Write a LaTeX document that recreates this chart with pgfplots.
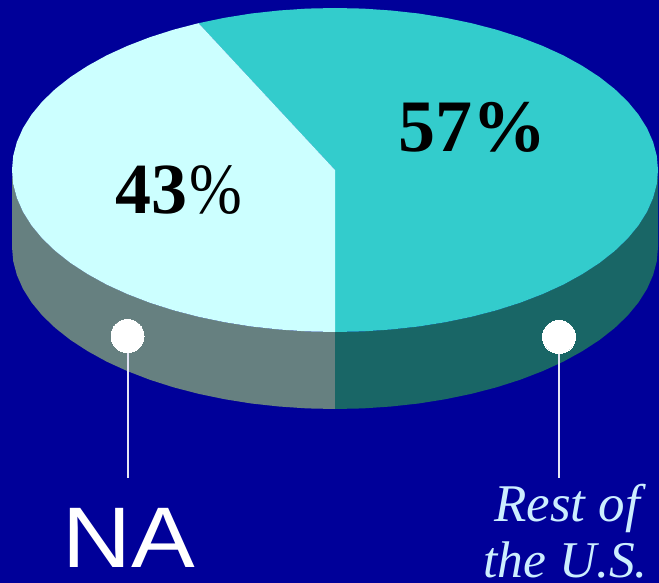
\documentclass[border=0pt]{standalone}
\usepackage{fontspec}
\setmainfont{Liberation Serif}
\newfontfamily\sansf{Liberation Sans}
\usepackage{pgfplots}
\pgfplotsset{compat=1.18}
\definecolor{bg}{HTML}{000099}
\definecolor{teal}{HTML}{33CCCC}
\definecolor{pale}{HTML}{CCFFFF}
\definecolor{sideL}{HTML}{668080}
\definecolor{sideR}{HTML}{196666}
\definecolor{labelc}{HTML}{CCEEFF}
\begin{document}
\begin{tikzpicture}
\begin{axis}[
  scale only axis, width=659pt, height=583pt,
  xmin=0, xmax=659, ymin=0, ymax=583, y dir=reverse,
  hide axis, clip=true
]
% background
\addplot[fill=bg, draw=none] coordinates {(0,0)(659,0)(659,583)(0,583)} -- cycle;
% side wall, NA
\addplot[fill=sideL, draw=none] coordinates {
 (12,170)(13.2,184.1)(16.9,198.1)(23,211.9)(31.5,225.4)(42.3,238.5)(55.3,251)(70.4,262.9)(87.6,274.1)(106.6,284.6)(127.4,294.1)(149.7,302.7)(173.5,310.3)(198.5,316.8)(224.5,322.2)(251.4,326.5)(278.9,329.5)(306.8,331.4)(335,332)
 (335,409)(306.8,408.4)(278.9,406.5)(251.4,403.5)(224.5,399.2)(198.5,393.8)(173.5,387.3)(149.7,379.7)(127.4,371.1)(106.6,361.6)(87.6,351.1)(70.4,339.9)(55.3,328)(42.3,315.5)(31.5,302.4)(23,288.9)(16.9,275.1)(13.2,261.1)(12,247)} -- cycle;
% side wall, rest of the U.S.
\addplot[fill=sideR, draw=none] coordinates {
 (335,332)(363.2,331.4)(391.1,329.5)(418.6,326.5)(445.5,322.2)(471.5,316.8)(496.5,310.3)(520.3,302.7)(542.6,294.1)(563.4,284.6)(582.4,274.1)(599.6,262.9)(614.7,251)(627.7,238.5)(638.5,225.4)(647,211.9)(653.1,198.1)(656.8,184.1)(658,170)
 (658,247)(656.8,261.1)(653.1,275.1)(647,288.9)(638.5,302.4)(627.7,315.5)(614.7,328)(599.6,339.9)(582.4,351.1)(563.4,361.6)(542.6,371.1)(520.3,379.7)(496.5,387.3)(471.5,393.8)(445.5,399.2)(418.6,403.5)(391.1,406.5)(363.2,408.4)(335,409)} -- cycle;
% top, rest of the U.S. (57%)
\addplot[fill=teal, draw=none] coordinates {
 (335,170)(198.5,23.2)(224.5,17.8)(251.4,13.5)(278.9,10.5)(306.8,8.6)(335,8)(363.2,8.6)(391.1,10.5)(418.6,13.5)(445.5,17.8)(471.5,23.2)(496.5,29.7)(520.3,37.3)(542.6,45.9)(563.4,55.4)(582.4,65.9)(599.6,77.1)(614.7,89)(627.7,101.5)(638.5,114.6)(647,128.1)(653.1,141.9)(656.8,155.9)(658,170)
 (656.8,184.1)(653.1,198.1)(647,211.9)(638.5,225.4)(627.7,238.5)(614.7,251)(599.6,262.9)(582.4,274.1)(563.4,284.6)(542.6,294.1)(520.3,302.7)(496.5,310.3)(471.5,316.8)(445.5,322.2)(418.6,326.5)(391.1,329.5)(363.2,331.4)(335,332)} -- cycle;
% top, NA (43%)
\addplot[fill=pale, draw=none] coordinates {
 (335,170)(335,332)(306.8,331.4)(278.9,329.5)(251.4,326.5)(224.5,322.2)(198.5,316.8)(173.5,310.3)(149.7,302.7)(127.4,294.1)(106.6,284.6)(87.6,274.1)(70.4,262.9)(55.3,251)(42.3,238.5)(31.5,225.4)(23,211.9)(16.9,198.1)(13.2,184.1)(12,170)
 (13.2,155.9)(16.9,141.9)(23,128.1)(31.5,114.6)(42.3,101.5)(55.3,89)(70.4,77.1)(87.6,65.9)(106.6,55.4)(127.4,45.9)(149.7,37.3)(173.5,29.7)(198.5,23.2)} -- cycle;
% leaders
\addplot[white!90!bg, line width=2pt] coordinates {(127.5,340)(127.5,478)};
\addplot[white!90!bg, line width=2pt] coordinates {(559,340)(559,478)};
\addplot[only marks, mark=*, mark size=16.5pt, mark options={fill=white, draw=white, line width=0pt}] coordinates {(127.5,336)(559,337)};
% texts
\node[anchor=base west, inner sep=0pt, font=\fontsize{74}{74}\selectfont\bfseries, text=black] at (axis cs:398.5,152) {57\%};
\node[anchor=base west, inner sep=0pt, font=\fontsize{72}{72}\selectfont, text=black] at (axis cs:115.5,214) {\textbf{43}\hspace{1.5pt}\scalebox{0.88}[1]{\%}};
\node[anchor=base west, inner sep=0pt, font=\sansf\fontsize{86}{86}\selectfont, text=white] at (axis cs:62,567) {\scalebox{1.11}[1]{NA}};
\node[anchor=base west, inner sep=0pt, font=\fontsize{53}{53}\selectfont\itshape, text=labelc] at (axis cs:494,521) {Rest of};
\node[anchor=base west, inner sep=0pt, font=\fontsize{51.5}{52}\selectfont\itshape, text=labelc] at (axis cs:483,577) {the U.S.};
\end{axis}
\end{tikzpicture}
\end{document}
